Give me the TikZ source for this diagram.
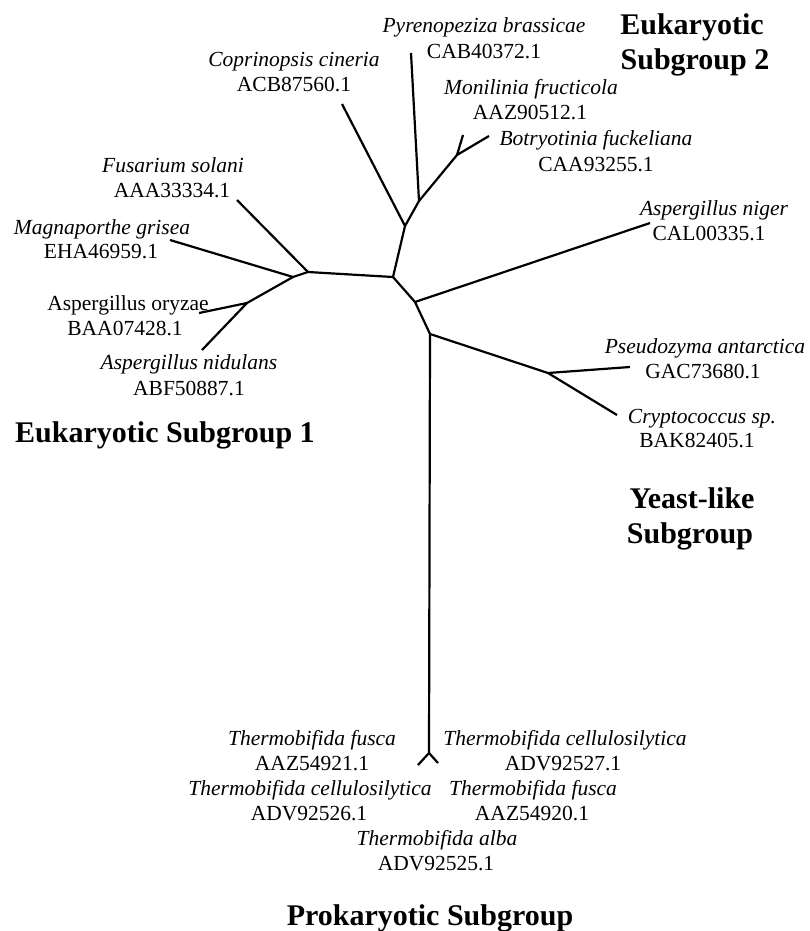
\documentclass[tikz,border=0pt]{standalone}
\usepackage{fontspec}
\setmainfont{Liberation Serif}
\begin{document}
\begin{tikzpicture}[x=1pt,y=-1pt,
  br/.style={line width=2.2pt, line join=round},
  lab/.style={font=\fontsize{21.5}{24}\selectfont, inner sep=0pt, anchor=base},
  ital/.style={font=\fontsize{21.5}{24}\selectfont\itshape, inner sep=0pt, anchor=base},
  ttl/.style={font=\fontsize{30}{35}\selectfont\bfseries, inner sep=0pt, anchor=base}]
\useasboundingbox (0,0) rectangle (810,931);
% internal nodes
\coordinate (C) at (393,277);
\coordinate (A) at (405,226);
\coordinate (B) at (419,201);
\coordinate (K) at (457,155);
\coordinate (D) at (308,272);
\coordinate (E) at (293,277);
\coordinate (F) at (247,303);
\coordinate (G) at (415,302);
\coordinate (H) at (430,334);
\coordinate (I) at (548,373);
\coordinate (J) at (429,753);
% tips
\coordinate (tCop) at (342,104);
\coordinate (tPyr) at (411,53);
\coordinate (tMon) at (463,135);
\coordinate (tBot) at (489,136);
\coordinate (tFus) at (237,200);
\coordinate (tMag) at (170,240);
\coordinate (tOry) at (199,313);
\coordinate (tNid) at (202,350);
\coordinate (tNig) at (650,223);
\coordinate (tPse) at (630,367);
\coordinate (tCry) at (617,415);
\coordinate (tJl) at (418,765);
\coordinate (tJr) at (438,763);
% branches
\draw[br] (C) -- (A) -- (tCop);
\draw[br] (A) -- (B) -- (tPyr);
\draw[br] (B) -- (K) -- (tMon);
\draw[br] (K) -- (tBot);
\draw[br] (C) -- (D) -- (tFus);
\draw[br] (D) -- (E) -- (tMag);
\draw[br] (E) -- (F) -- (tOry);
\draw[br] (F) -- (tNid);
\draw[br] (C) -- (G) -- (tNig);
\draw[br] (G) -- (H) -- (I) -- (tPse);
\draw[br] (I) -- (tCry);
\draw[br] (H) -- (J) -- (tJl);
\draw[br] (J) -- (tJr);
% labels: Eukaryotic subgroup 2
\node[ital] (nPyr) at (484,33) {Pyrenopeziza brassicae};
\node[lab] (iPyr) at (484,59) {CAB40372.1};
\node[ital] (nCop) at (294,67) {Coprinopsis cineria};
\node[lab] (iCop) at (294,92) {ACB87560.1};
\node[ital] (nMon) at (531,95) {Monilinia fructicola};
\node[lab] (iMon) at (530,120) {AAZ90512.1};
\node[ital] (nBot) at (596,146) {Botryotinia fuckeliana};
\node[lab] (iBot) at (596,171) {CAA93255.1};
% Eukaryotic subgroup 1
\node[ital] (nFus) at (173,172) {Fusarium solani};
\node[lab] (iFus) at (172,197) {AAA33334.1};
\node[ital] (nMag) at (102,234) {Magnaporthe grisea};
\node[lab] (iMag) at (101,258) {EHA46959.1};
\node[lab] (nOry) at (128,310) {Aspergillus oryzae};
\node[lab] (iOry) at (125,335) {BAA07428.1};
\node[ital] (nNid) at (189,369) {Aspergillus nidulans};
\node[lab] (iNid) at (189,395) {ABF50887.1};
% right side
\node[ital] (nNig) at (714,215) {Aspergillus niger};
\node[lab] (iNig) at (709,240) {CAL00335.1};
\node[ital] (nPse) at (705,353) {Pseudozyma antarctica};
\node[lab] (iPse) at (703,378) {GAC73680.1};
\node[ital] (nCry) at (702,423) {Cryptococcus sp.};
\node[lab] (iCry) at (697,447) {BAK82405.1};
% prokaryotic
\node[ital] (nTf1) at (312,745) {Thermobifida fusca};
\node[lab] (iTf1) at (312,770) {AAZ54921.1};
\node[ital] (nTc1) at (310,795) {Thermobifida cellulosilytica};
\node[lab] (iTc1) at (309,820) {ADV92526.1};
\node[ital] (nTc2) at (565,745) {Thermobifida cellulosilytica};
\node[lab] (iTc2) at (563,770) {ADV92527.1};
\node[ital] (nTf2) at (533,795) {Thermobifida fusca};
\node[lab] (iTf2) at (532,820) {AAZ54920.1};
\node[ital] (nTa) at (437,845) {Thermobifida alba};
\node[lab] (iTa) at (436,870) {ADV92525.1};
% group titles
\node[ttl] (g1) at (165,442) {Eukaryotic Subgroup 1};
\node[ttl] (g2a) at (692,35) {Eukaryotic};
\node[ttl] (g2b) at (695,70) {Subgroup 2};
\node[ttl] (g3a) at (692,508) {Yeast-like};
\node[ttl] (g3b) at (690,543) {Subgroup};
\node[ttl] (g4) at (430,925) {Prokaryotic Subgroup};
\end{tikzpicture}
\end{document}
